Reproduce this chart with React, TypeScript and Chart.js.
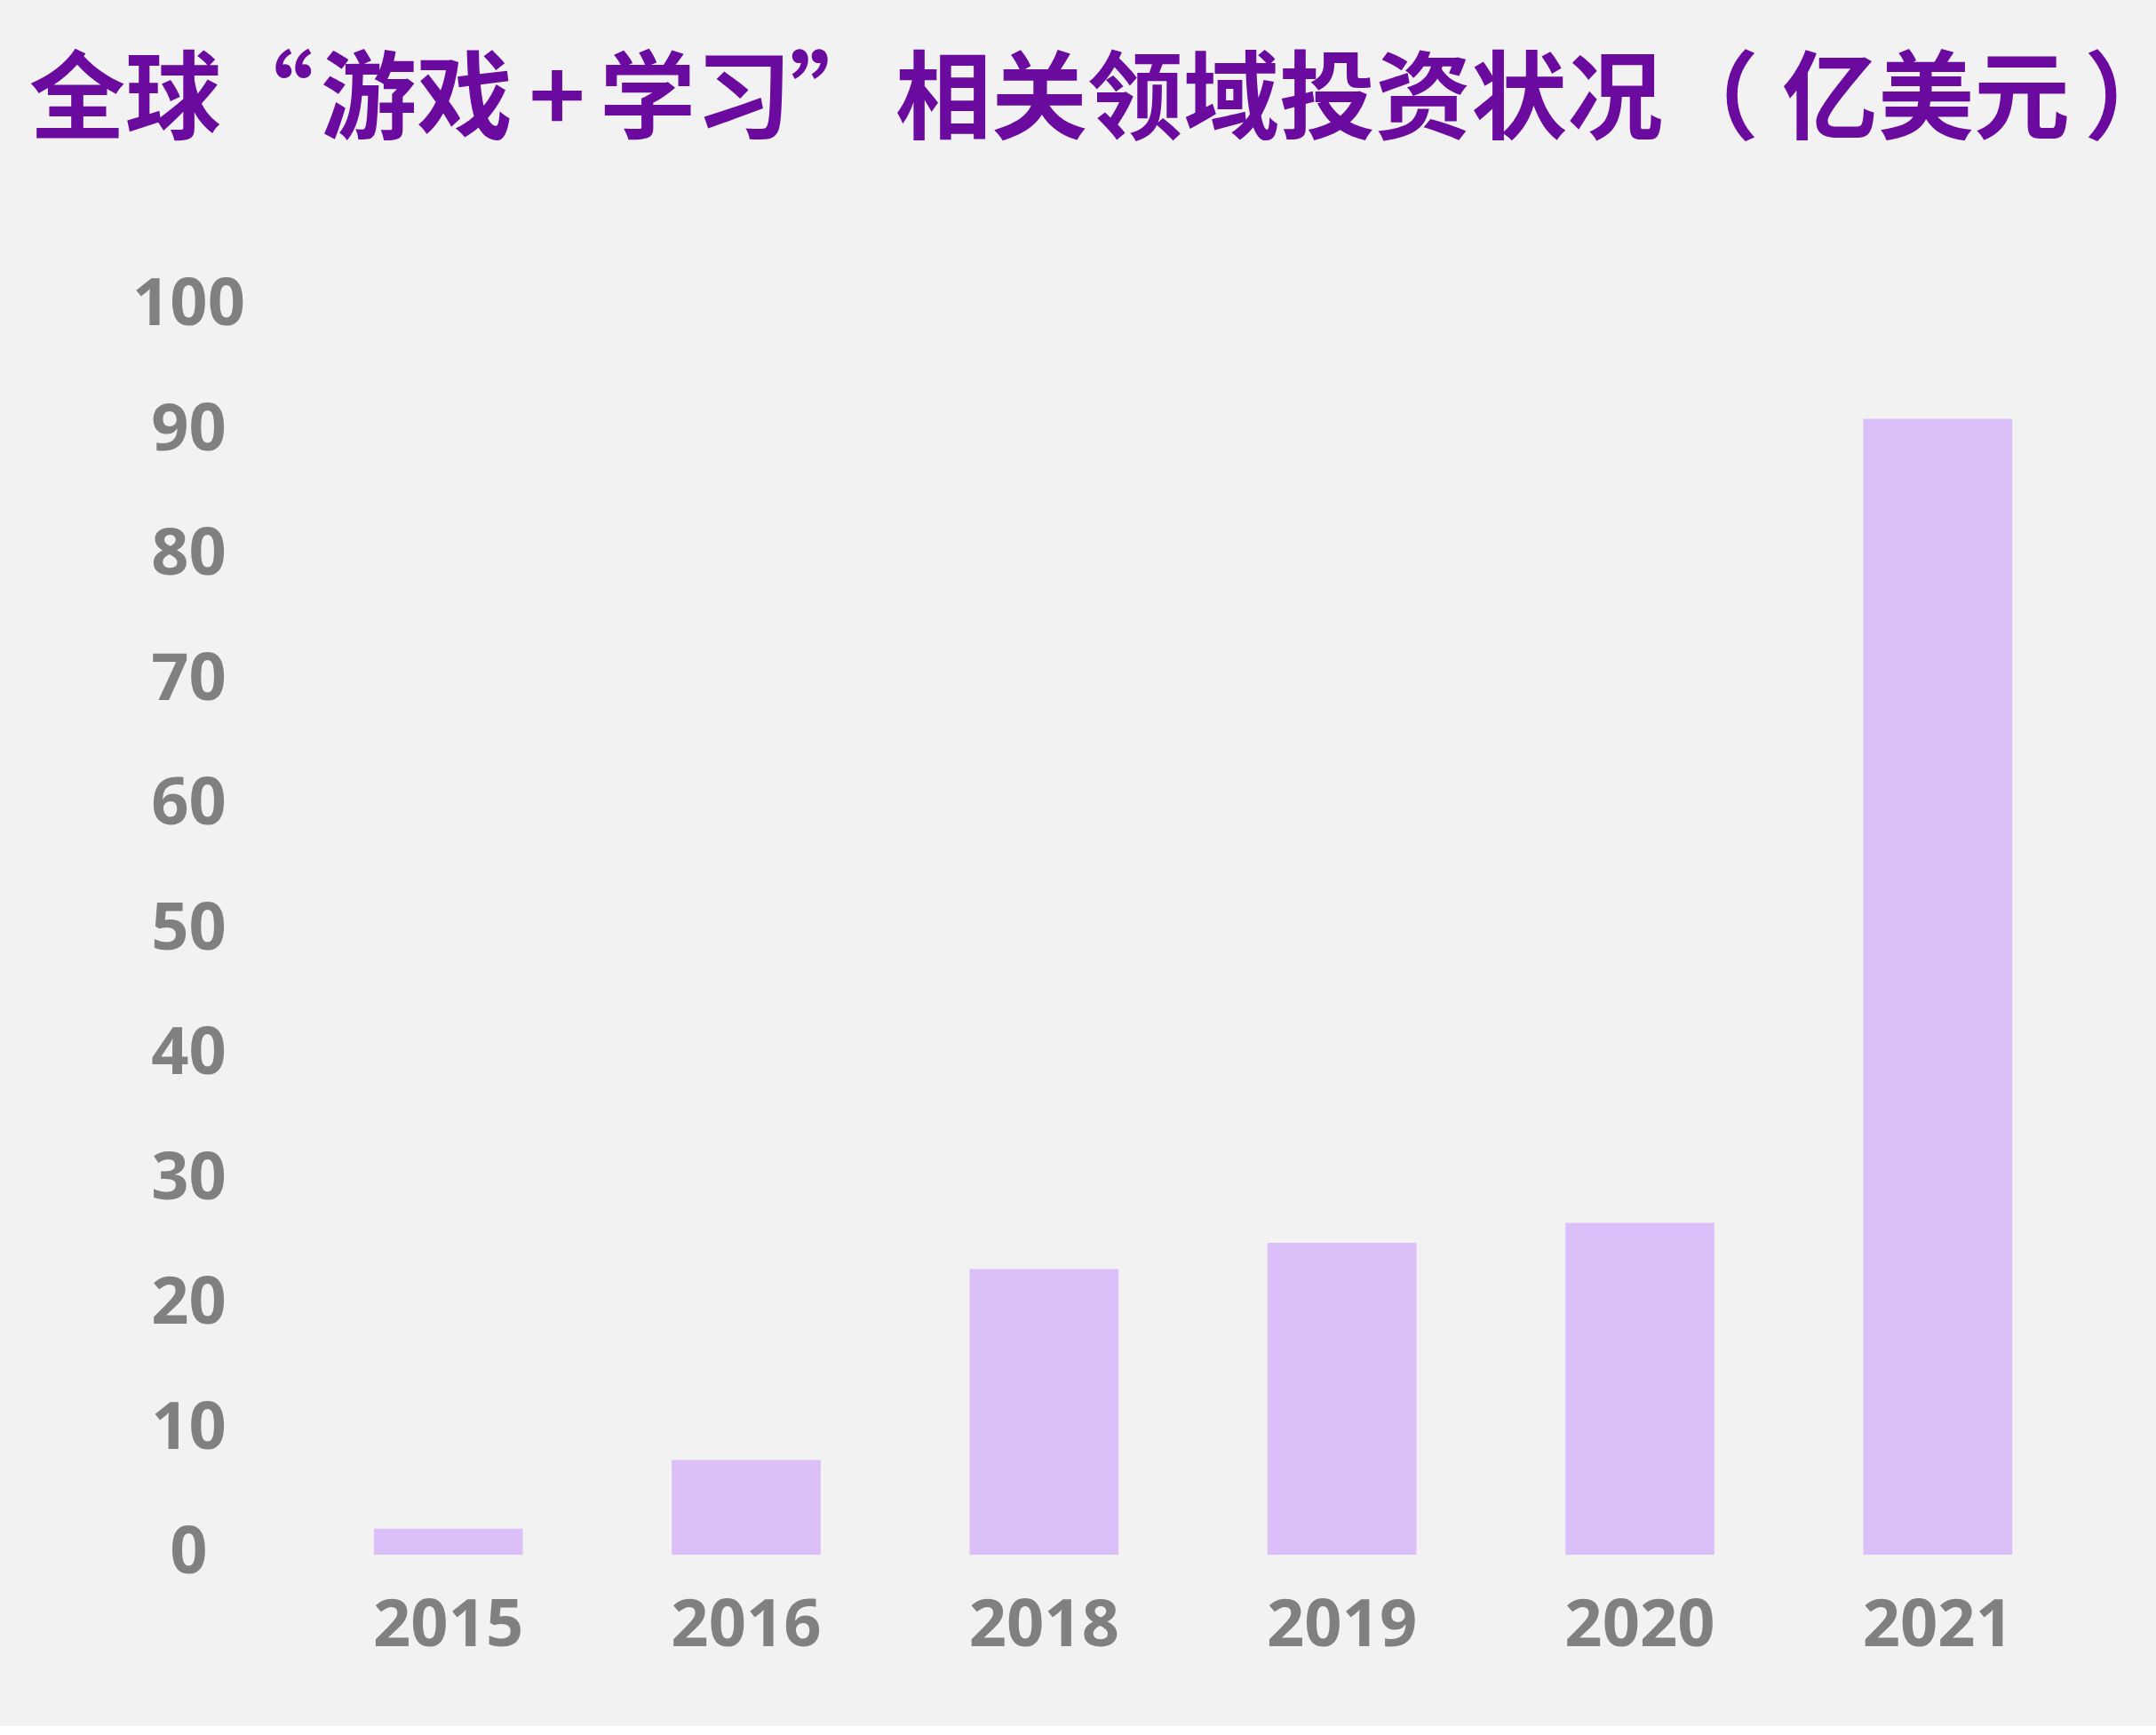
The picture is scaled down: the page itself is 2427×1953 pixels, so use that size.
import React, { useEffect, useRef } from 'react';
import { Chart, registerables } from 'chart.js';

Chart.register(...registerables);

const TITLE = '全球“游戏+学习”相关领域投资状况（亿美元）';
const YEARS = ['2015', '2016', '2018', '2019', '2020', '2021'];
const INVESTMENT = [2.1, 7.6, 22.9, 25.0, 26.6, 91.0];
const Y_MIN = 0;
const Y_MAX = 100;
const Y_STEP = 10;

const W = 2427;
const H = 1943;

const TITLE_SIZE = 108;
const TITLE_LEFT = 33;
const TITLE_Y = 107;
const TITLE_COLOR = '#6b0a9e';
const TITLE_FONT = `bold ${TITLE_SIZE}px 'Noto Sans CJK SC', sans-serif`;

// Per-glyph cell layout for punctuation (advance, alignment and offset inside the cell);
// CJK ideographs use a plain 1em cell.
const PUNCT: Record<string, { adv: number; align: CanvasTextAlign; off: number }> = {
  '“': { adv: 112, align: 'center', off: 50 },
  '+': { adv: 98, align: 'center', off: 50 },
  '”': { adv: 117, align: 'center', off: 52 },
  '（': { adv: 134, align: 'left', off: 0 },
  '）': { adv: 108, align: 'left', off: 16 },
};

const cjkTitlePlugin = {
  id: 'cjkTitle',
  afterDraw(chart: any) {
    const ctx: CanvasRenderingContext2D = chart.ctx;
    ctx.save();
    ctx.font = TITLE_FONT;
    ctx.fillStyle = TITLE_COLOR;
    ctx.textBaseline = 'middle';
    let x = TITLE_LEFT;
    for (const ch of Array.from(TITLE)) {
      const p = PUNCT[ch];
      if (p) {
        ctx.textAlign = p.align;
        ctx.fillText(ch, x + p.off, TITLE_Y);
        x += p.adv;
      } else {
        ctx.textAlign = 'center';
        ctx.fillText(ch, x + TITLE_SIZE / 2, TITLE_Y);
        x += TITLE_SIZE;
      }
    }
    ctx.restore();
  },
};

export default function App() {
  const ref = useRef<HTMLCanvasElement>(null);

  useEffect(() => {
    document.body.style.margin = '0';
    const canvas = ref.current;
    if (!canvas) return;
    const tickFont = { family: "'Noto Sans', 'Open Sans', sans-serif", size: 74, weight: 'bold' as const };
    const chart = new Chart(canvas, {
      type: 'bar',
      data: {
        labels: YEARS,
        datasets: [
          {
            data: INVESTMENT,
            backgroundColor: '#dbbff9',
            borderWidth: 0,
            barPercentage: 0.5,
            categoryPercentage: 1.0,
          },
        ],
      },
      options: {
        responsive: false,
        animation: false,
        devicePixelRatio: 1,
        layout: { padding: { top: 345, left: 153, right: 78, bottom: 30 } },
        plugins: {
          legend: { display: false },
          tooltip: { enabled: false },
          title: { display: false },
        },
        scales: {
          x: {
            grid: { display: false, drawTicks: false },
            border: { display: false },
            ticks: { color: '#808080', font: tickFont, padding: 37 },
          },
          y: {
            min: Y_MIN,
            max: Y_MAX,
            grid: { display: false, drawTicks: false },
            border: { display: false },
            ticks: {
              stepSize: Y_STEP,
              color: '#808080',
              font: tickFont,
              padding: 61,
              crossAlign: 'center',
            },
            afterFit: (scale: any) => {
              scale.width = 184;
            },
          },
        },
      },
      plugins: [cjkTitlePlugin],
    });
    return () => chart.destroy();
  }, []);

  return (
    <div style={{ position: 'absolute', left: 0, top: 0, width: W, height: H, background: '#f2f2f2' }}>
      <canvas ref={ref} width={W} height={H} style={{ display: 'block', width: W, height: H }} />
    </div>
  );
}
